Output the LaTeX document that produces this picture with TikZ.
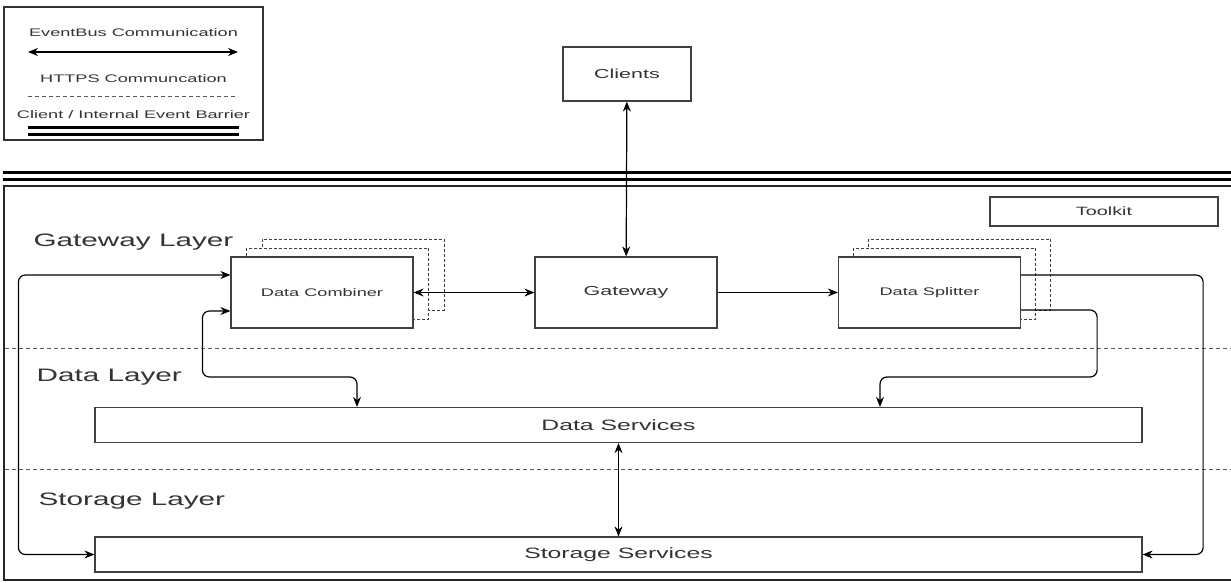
\documentclass[tikz,border=0pt]{standalone}
\usepackage{fontspec}
\setmainfont{Liberation Sans}[FakeStretch=1.65]
\usetikzlibrary{arrows.meta}
\newcommand{\fs}[1]{\fontsize{#1}{#1}\selectfont}

\begin{document}
\begin{tikzpicture}[x=1pt, y=-1pt, line width=1.2pt,
  >={Stealth[length=10pt,width=8pt]},
  box/.style={draw=black!75, fill=white, inner sep=0pt, text=black!80, font=\fs{11}},
  wide/.style={box, minimum width=1047, minimum height=35, font=\fs{15}},
  unit/.style={box, minimum width=182, minimum height=71},
  stackbox/.style={unit, dash pattern=on 3pt off 2pt, line width=1pt},
  layer/.style={anchor=west, inner sep=0pt, text=black!80, font=\fs{18}},
  legend/.style={inner sep=0pt, text=black!80, font=\fs{11}},
  sep/.style={draw=black!65, line width=0.9pt, dash pattern=on 4pt off 3pt},
  barrier/.style={line width=3.4pt},
  link/.style={rounded corners=7}]
\useasboundingbox (0,0) rectangle (1231,583);

\draw[black!80] (4,7) rectangle (263,140);
\node[legend] (lbus) at (133.5,33) {EventBus Communication};
\draw[<->] (28,52) -- (238,52);
\node[legend] (lhttps) at (133.5,79) {HTTPS Communcation};
\draw[sep] (28,96) -- (238,96);
\node[legend] (lbar) at (133.5,115) {Client / Internal Event Barrier};
\draw[barrier] (28,127.5) -- (239,127.5);
\draw[barrier] (28,134.3) -- (239,134.3);

\draw[barrier] (3,172.7) -- (1235,172.7);
\draw[barrier] (3,179.2) -- (1235,179.2);
\draw[black!85] (4,186) rectangle (1240,580);
\draw[sep] (5,348) -- (1235,348);
\draw[sep] (5,469) -- (1235,469);

\node[layer] (lgw) at (33,242) {Gateway Layer};
\node[layer] (ldata) at (36,377) {Data Layer};
\node[layer] (lstore) at (38,501) {Storage Layer};

\node[box, minimum width=128, minimum height=54, font=\fs{13}] (clients) at (627,74) {Clients};
\node[box, minimum width=228, minimum height=29, font=\fs{12}] (toolkit) at (1104,211.5) {Toolkit};

\foreach \i in {2,1} {
  \node[stackbox] at (322+15.5*\i, 292.5-9*\i) {};
  \node[stackbox] at (929.5+15*\i, 292.5-9*\i) {};
}
\node[unit] (combiner) at (322,292.5) {Data Combiner};
\node[unit, font=\fs{13}] (gateway) at (626,292.5) {Gateway};
\node[unit] (splitter) at (929.5,292.5) {Data Splitter};

\node[wide] (dsvc) at (618.5,425) {Data Services};
\node[wide] (ssvc) at (618.5,554.5) {Storage Services};

\draw[<->] (clients) -- (gateway);
\draw[<->] (combiner) -- (gateway);
\draw[->] (gateway) -- (splitter);
\draw[<->] (dsvc) -- (ssvc);
\draw[<->, link] ([yshift=17.5]combiner.west) -- ++(-212,0) |- (ssvc.west);
\draw[<->, link] ([yshift=-18.5]combiner.west) -| ++(-28,66) -| ([xshift=-261.5]dsvc.north);
\draw[->, link] ([yshift=17.5]splitter.east) -- ++(182,0) |- (ssvc.east);
\draw[->, link] ([yshift=-17.5]splitter.east) -| ++(76,67) -| ([xshift=261.5]dsvc.north);
\end{tikzpicture}
\end{document}
